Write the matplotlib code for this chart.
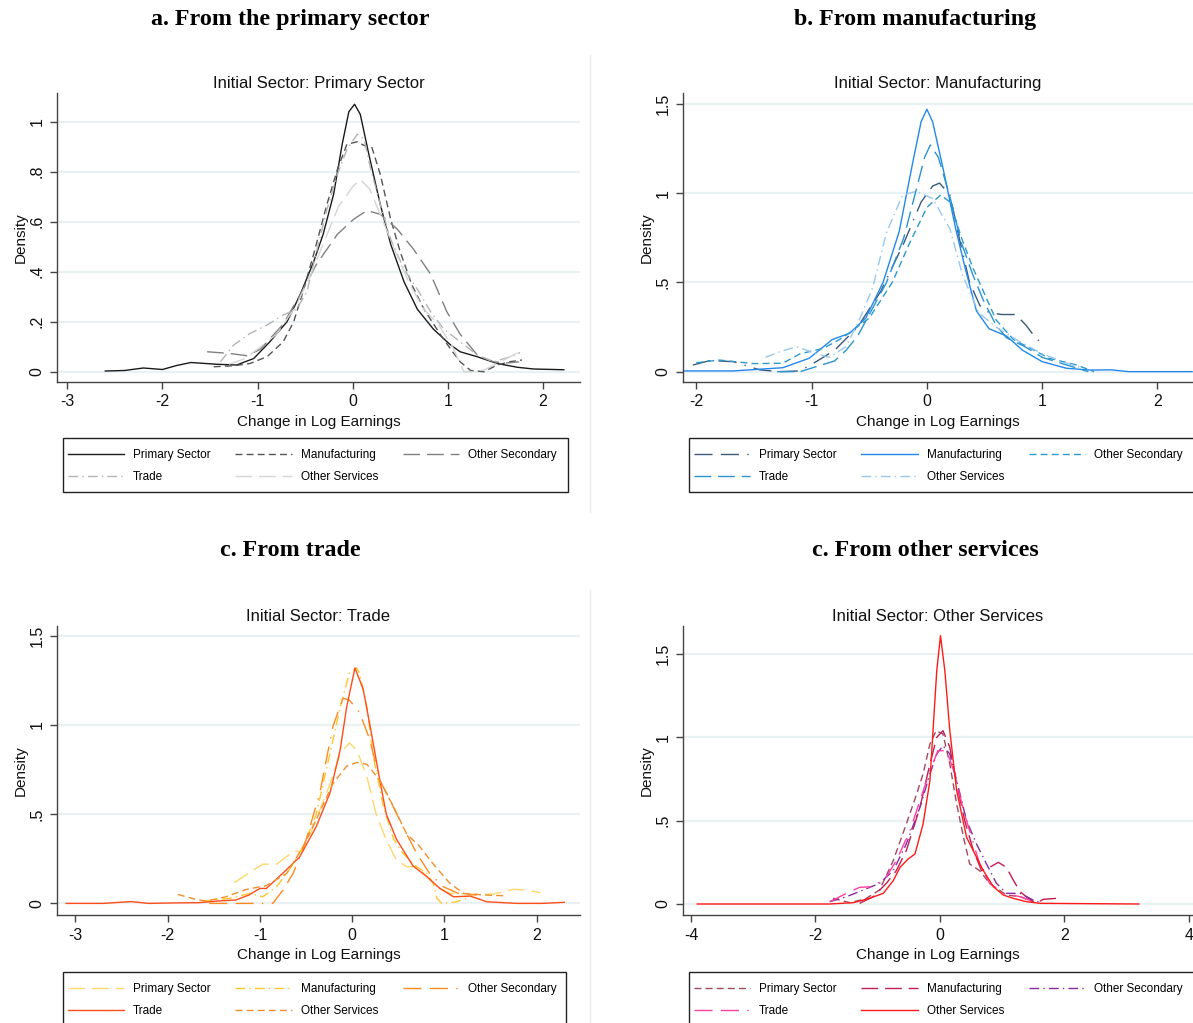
import matplotlib
matplotlib.use("Agg")
import matplotlib.pyplot as plt
from matplotlib.lines import Line2D
from matplotlib.patches import Rectangle

W, H = 1193, 1023

SECTORS = ["Primary Sector", "Manufacturing", "Other Secondary", "Trade", "Other Services"]

# --- a. initial sector: primary --------------------------------------------
a_primary_x = [-2.6, -2.4, -2.2, -2.0, -1.85, -1.7, -1.43, -1.22, -1.04, -0.87, -0.69, -0.55, -0.41,
               -0.31, -0.2, -0.11, -0.04, 0.02, 0.08, 0.17, 0.29, 0.4, 0.54, 0.68, 0.85, 1.03, 1.13,
               1.31, 1.52, 1.73, 1.9, 2.22]
a_primary_y = [0.003, 0.005, 0.015, 0.009, 0.025, 0.037, 0.03, 0.027, 0.053, 0.12, 0.2, 0.31, 0.44,
               0.55, 0.71, 0.91, 1.04, 1.07, 1.03, 0.87, 0.67, 0.51, 0.36, 0.25, 0.17, 0.107, 0.08,
               0.06, 0.033, 0.018, 0.011, 0.008]
a_manuf_x = [-1.46, -1.25, -1.08, -0.9, -0.73, -0.62, -0.53, -0.41, -0.27, -0.16, -0.06, 0.05, 0.12,
             0.2, 0.29, 0.4, 0.5, 0.62, 0.75, 0.92, 1.05, 1.13, 1.24, 1.38, 1.52, 1.65, 1.78]
a_manuf_y = [0.02, 0.024, 0.033, 0.06, 0.12, 0.2, 0.31, 0.47, 0.67, 0.81, 0.91, 0.92, 0.905, 0.9,
             0.79, 0.61, 0.48, 0.35, 0.25, 0.15, 0.08, 0.04, 0.005, 0.0, 0.027, 0.04, 0.047]
a_othsec_x = [-1.53, -1.29, -1.11, -0.97, -0.73, -0.55, -0.38, -0.16, 0.01, 0.15, 0.29, 0.47, 0.64,
              0.82, 0.99, 1.13, 1.31, 1.48, 1.62, 1.75]
a_othsec_y = [0.08, 0.073, 0.064, 0.09, 0.19, 0.31, 0.43, 0.55, 0.61, 0.645, 0.63, 0.57, 0.49, 0.39,
              0.24, 0.15, 0.067, 0.04, 0.035, 0.04]
a_trade_x = [-1.39, -1.25, -1.08, -0.9, -0.73, -0.59, -0.48, -0.38, -0.27, -0.16, -0.06, 0.05, 0.12,
             0.19, 0.29, 0.4, 0.54, 0.68, 0.82, 0.96, 1.13, 1.31, 1.48, 1.66, 1.76]
a_trade_y = [0.04, 0.107, 0.153, 0.187, 0.227, 0.25, 0.32, 0.48, 0.65, 0.79, 0.89, 0.95, 0.93, 0.81,
             0.67, 0.53, 0.41, 0.33, 0.24, 0.17, 0.12, 0.067, 0.04, 0.06, 0.077]
a_othsvc_x = [-1.3, -1.15, -1.0, -0.8, -0.6, -0.45, -0.3, -0.15, 0.0, 0.08, 0.18, 0.3, 0.45, 0.6,
              0.75, 0.9, 1.05, 1.17, 1.3, 1.4, 1.55, 1.76]
a_othsvc_y = [0.03, 0.05, 0.09, 0.15, 0.26, 0.38, 0.52, 0.66, 0.74, 0.77, 0.73, 0.62, 0.48, 0.35,
              0.25, 0.19, 0.1, 0.0, 0.0, 0.01, 0.04, 0.08]

# --- b. initial sector: manufacturing --------------------------------------
b_primary_x = [-2.03, -1.88, -1.68, -1.45, -1.28, -1.1, -0.96, -0.8, -0.6, -0.4, -0.2, -0.05, 0.05,
               0.11, 0.2, 0.28, 0.37, 0.46, 0.54, 0.65, 0.77, 0.86, 0.93, 0.99]
b_primary_y = [0.037, 0.062, 0.056, 0.01, 0.0, 0.004, 0.056, 0.12, 0.25, 0.45, 0.72, 0.95, 1.04,
               1.056, 0.99, 0.75, 0.5, 0.37, 0.33, 0.32, 0.32, 0.26, 0.2, 0.16]
b_manuf_x = [-2.1, -1.68, -1.25, -1.02, -0.82, -0.67, -0.53, -0.38, -0.24, -0.12, -0.05, 0.0, 0.05,
             0.14, 0.25, 0.34, 0.43, 0.54, 0.69, 0.83, 1.0, 1.21, 1.41, 1.6, 1.75, 2.3]
b_manuf_y = [0.004, 0.004, 0.022, 0.075, 0.18, 0.215, 0.3, 0.5, 0.785, 1.18, 1.4, 1.47, 1.4, 1.14,
             0.8, 0.56, 0.34, 0.24, 0.2, 0.12, 0.056, 0.019, 0.009, 0.01, 0.0, 0.0]
b_othsec_x = [-2.0, -1.8, -1.5, -1.25, -1.1, -0.9, -0.73, -0.5, -0.3, -0.15, 0.0, 0.12, 0.2, 0.3,
              0.4, 0.49, 0.6, 0.75, 0.9, 1.06, 1.3, 1.45]
b_othsec_y = [0.05, 0.065, 0.045, 0.047, 0.1, 0.13, 0.19, 0.3, 0.5, 0.72, 0.92, 0.99, 0.95, 0.75,
              0.58, 0.45, 0.29, 0.18, 0.13, 0.075, 0.037, 0.0]
b_trade_x = [-1.3, -1.1, -0.95, -0.8, -0.7, -0.6, -0.5, -0.35, -0.2, -0.1, -0.02, 0.03, 0.1, 0.2,
             0.3, 0.4, 0.49, 0.6, 0.69, 0.85, 1.0, 1.2, 1.4]
b_trade_y = [0.0, 0.0, 0.03, 0.06, 0.12, 0.2, 0.32, 0.5, 0.75, 1.0, 1.2, 1.27, 1.2, 0.98, 0.72,
             0.54, 0.4, 0.26, 0.19, 0.14, 0.08, 0.04, 0.0]
b_othsvc_x = [-1.4, -1.28, -1.13, -1.0, -0.85, -0.7, -0.58, -0.47, -0.35, -0.21, -0.09, 0.05, 0.2,
              0.31, 0.45, 0.6, 0.8, 1.0, 1.2, 1.35]
b_othsvc_y = [0.08, 0.11, 0.14, 0.11, 0.08, 0.14, 0.3, 0.47, 0.78, 0.99, 1.01, 0.97, 0.8, 0.54,
              0.33, 0.25, 0.17, 0.1, 0.05, 0.02]

# --- c. initial sector: trade ----------------------------------------------
c_primary_x = [-1.28, -0.97, -0.82, -0.64, -0.53, -0.39, -0.24, -0.13, -0.03, 0.05, 0.16, 0.26,
               0.37, 0.48, 0.59, 0.7, 0.81, 0.92, 1.06, 1.28, 1.53, 1.75, 1.89, 2.04]
c_primary_y = [0.116, 0.22, 0.22, 0.29, 0.295, 0.47, 0.67, 0.84, 0.9, 0.86, 0.71, 0.5, 0.355,
               0.243, 0.206, 0.206, 0.15, 0.093, 0.056, 0.052, 0.052, 0.079, 0.075, 0.06]
c_manuf_x = [-1.62, -1.33, -1.11, -0.97, -0.82, -0.68, -0.53, -0.39, -0.24, -0.13, -0.03, 0.05,
             0.08, 0.16, 0.23, 0.34, 0.45, 0.55, 0.7, 0.81, 0.88, 0.92, 0.97, 1.13, 1.28]
c_manuf_y = [0.013, 0.028, 0.056, 0.037, 0.093, 0.19, 0.32, 0.5, 0.84, 1.1, 1.29, 1.32, 1.29,
             1.1, 0.82, 0.54, 0.36, 0.28, 0.206, 0.168, 0.112, 0.028, 0.0, 0.009, 0.037]
c_othsec_x = [-1.55, -0.86, -0.75, -0.64, -0.5, -0.35, -0.21, -0.1, -0.03, 0.08, 0.19, 0.3, 0.41,
              0.55, 0.7, 0.84, 0.99, 1.17, 1.35]
c_othsec_y = [0.0, 0.0, 0.075, 0.168, 0.355, 0.62, 0.99, 1.15, 1.14, 1.07, 0.92, 0.69, 0.58, 0.43,
              0.28, 0.168, 0.093, 0.052, 0.047]
c_trade_x = [-3.1, -2.7, -2.4, -2.2, -1.9, -1.66, -1.47, -1.26, -1.12, -1.0, -0.93, -0.75, -0.57,
             -0.39, -0.24, -0.13, -0.06, 0.03, 0.12, 0.21, 0.3, 0.37, 0.48, 0.66, 0.81, 0.95, 1.1,
             1.28, 1.46, 1.79, 2.05, 2.3]
c_trade_y = [0.0, 0.0, 0.01, 0.0, 0.003, 0.004, 0.013, 0.019, 0.047, 0.084, 0.084, 0.17, 0.26,
             0.43, 0.62, 0.86, 1.1, 1.32, 1.2, 0.95, 0.69, 0.5, 0.36, 0.21, 0.15, 0.084, 0.037,
             0.041, 0.009, 0.0, 0.0, 0.006]
c_othsvc_x = [-1.89, -1.69, -1.58, -1.37, -1.15, -0.93, -0.71, -0.53, -0.39, -0.21, -0.06, 0.05,
              0.16, 0.3, 0.45, 0.59, 0.73, 0.88, 1.06, 1.21, 1.43, 1.64]
c_othsvc_y = [0.05, 0.022, 0.013, 0.037, 0.078, 0.1, 0.168, 0.32, 0.47, 0.67, 0.77, 0.79, 0.78,
              0.69, 0.54, 0.39, 0.32, 0.22, 0.112, 0.056, 0.047, 0.043]

# --- d. initial sector: other services -------------------------------------
d_primary_x = [-1.72, -1.45, -1.2, -0.97, -0.75, -0.54, -0.4, -0.27, -0.16, -0.06, 0.05, 0.16,
               0.27, 0.38, 0.48, 0.64, 0.8, 1.07, 1.29, 1.5]
d_primary_y = [0.034, 0.008, 0.03, 0.084, 0.26, 0.48, 0.63, 0.78, 0.96, 1.04, 1.02, 0.84, 0.6,
               0.4, 0.24, 0.2, 0.124, 0.054, 0.044, 0.014]
d_manuf_x = [-1.29, -1.07, -0.86, -0.7, -0.54, -0.32, -0.16, -0.05, 0.05, 0.16, 0.27, 0.4, 0.54,
             0.67, 0.8, 0.94, 1.07, 1.18, 1.29, 1.42, 1.55, 1.66, 1.88]
d_manuf_y = [0.004, 0.044, 0.124, 0.2, 0.32, 0.58, 0.84, 1.0, 1.04, 0.94, 0.72, 0.5, 0.32, 0.2,
             0.22, 0.25, 0.22, 0.144, 0.074, 0.034, 0.004, 0.028, 0.034]
d_othsec_x = [-1.77, -1.5, -1.23, -0.97, -0.75, -0.54, -0.32, -0.16, -0.05, 0.05, 0.16, 0.27, 0.43,
              0.59, 0.75, 0.91, 1.07, 1.29, 1.5, 1.64]
d_othsec_y = [0.014, 0.044, 0.084, 0.124, 0.2, 0.36, 0.58, 0.78, 0.9, 0.95, 0.9, 0.74, 0.5, 0.36,
              0.24, 0.124, 0.064, 0.064, 0.024, 0.004]
d_trade_x = [-1.77, -1.5, -1.29, -1.07, -0.86, -0.7, -0.48, -0.32, -0.16, -0.03, 0.11, 0.24, 0.38,
             0.51, 0.64, 0.8, 1.02, 1.29, 1.5]
d_trade_y = [0.014, 0.064, 0.1, 0.104, 0.164, 0.26, 0.44, 0.62, 0.8, 0.92, 0.92, 0.78, 0.56, 0.4,
             0.24, 0.124, 0.064, 0.044, 0.014]
d_othsvc_x = [-3.9, -1.77, -1.39, -1.13, -0.91, -0.75, -0.64, -0.51, -0.4, -0.27, -0.16, -0.11,
              -0.05, 0.01, 0.08, 0.16, 0.27, 0.43, 0.59, 0.7, 0.86, 1.02, 1.18, 1.39, 1.61, 3.2]
d_othsvc_y = [0.0, 0.0, 0.008, 0.034, 0.064, 0.14, 0.22, 0.27, 0.3, 0.48, 0.74, 1.04, 1.4, 1.61,
              1.4, 1.04, 0.68, 0.4, 0.28, 0.2, 0.104, 0.054, 0.034, 0.014, 0.004, 0.0]

# line styles (Stata-like dash patterns, in units of line width)
SOLID = "-"
DASH = (0, (5, 3))
LONGDASH = (0, (12, 5))
DASHDOT = (0, (7, 3, 1, 3))
LONGDASHDOT = (0, (13, 6, 13, 6, 1, 6))

panels = [
    dict(rect=(57, 93, 580, 382), title="Initial Sector: Primary Sector",
         head="a. From the primary sector", head_xy=(290, 19),
         xlim=(-3.108, 2.39), ylim=(-0.041, 1.115), xticks=[-3, -2, -1, 0, 1, 2],
         yticks=[0, 0.2, 0.4, 0.6, 0.8, 1.0], ylabels=["0", ".2", ".4", ".6", ".8", "1"],
         curves=[(a_primary_x, a_primary_y), (a_manuf_x, a_manuf_y), (a_othsec_x, a_othsec_y),
                 (a_trade_x, a_trade_y), (a_othsvc_x, a_othsvc_y)],
         colors=["#1a1a1a", "#555555", "#808080", "#b4b4b4", "#d4d4d4"],
         styles=[SOLID, DASH, LONGDASH, DASHDOT, LONGDASH],
         legend=(63, 438, 568, 492)),
    dict(rect=(683, 93, 1193, 382), title="Initial Sector: Manufacturing",
         head="b. From manufacturing", head_xy=(915, 19),
         xlim=(-2.115, 2.308), ylim=(-0.058, 1.561), xticks=[-2, -1, 0, 1, 2],
         yticks=[0, 0.5, 1.0, 1.5], ylabels=["0", ".5", "1", "1.5"],
         curves=[(b_primary_x, b_primary_y), (b_manuf_x, b_manuf_y), (b_othsec_x, b_othsec_y),
                 (b_trade_x, b_trade_y), (b_othsvc_x, b_othsvc_y)],
         colors=["#3a5a78", "#2288ee", "#2a9bcc", "#2b93d0", "#98c8ec"],
         styles=[LONGDASHDOT, SOLID, DASH, LONGDASH, DASHDOT],
         legend=(689, 438, 1205, 492)),
    dict(rect=(57, 626, 580, 915), title="Initial Sector: Trade",
         head="c. From trade", head_xy=(290, 551),
         xlim=(-3.2, 2.47), ylim=(-0.065, 1.555), xticks=[-3, -2, -1, 0, 1, 2],
         yticks=[0, 0.5, 1.0, 1.5], ylabels=["0", ".5", "1", "1.5"],
         curves=[(c_primary_x, c_primary_y), (c_manuf_x, c_manuf_y), (c_othsec_x, c_othsec_y),
                 (c_trade_x, c_trade_y), (c_othsvc_x, c_othsvc_y)],
         colors=["#ffd76a", "#ffc72c", "#ff8a1f", "#ff4d1a", "#f0902c"],
         styles=[LONGDASH, DASHDOT, LONGDASHDOT, SOLID, DASH],
         legend=(63, 972, 566, 1030)),
    dict(rect=(683, 626, 1193, 915), title="Initial Sector: Other Services",
         head="c. From other services", head_xy=(925, 551),
         xlim=(-4.13, 4.07), ylim=(-0.066, 1.668), xticks=[-4, -2, 0, 2, 4],
         yticks=[0, 0.5, 1.0, 1.5], ylabels=["0", ".5", "1", "1.5"],
         curves=[(d_primary_x, d_primary_y), (d_manuf_x, d_manuf_y), (d_othsec_x, d_othsec_y),
                 (d_trade_x, d_trade_y), (d_othsvc_x, d_othsvc_y)],
         colors=["#a04a5e", "#c21d52", "#8a2a9e", "#ff3fa0", "#ff1a1a"],
         styles=[DASH, LONGDASH, DASHDOT, LONGDASHDOT, SOLID],
         legend=(689, 972, 1205, 1030)),
]

plt.rcParams["font.family"] = ["Liberation Sans", "DejaVu Sans"]
fig = plt.figure(figsize=(W / 100, H / 100), dpi=100)
fig.patch.set_facecolor("white")

# faint frame edges of the original Stata graphs
fig.add_artist(Line2D([590 / W, 590 / W], [1 - 55 / H, 1 - 512 / H], color="#ececec", lw=1))
fig.add_artist(Line2D([590 / W, 590 / W], [1 - 590 / H, 0], color="#ececec", lw=1))

for p in panels:
    l, t, r, b = p["rect"]
    ax = fig.add_axes([l / W, 1 - b / H, (r - l) / W, (b - t) / H])
    ax.set_xlim(*p["xlim"])
    ax.set_ylim(*p["ylim"])
    for yv in p["yticks"]:
        ax.axhline(yv, color="#eaf1f3", lw=1.6, zorder=0)
    for (x, y), c, ls in zip(p["curves"], p["colors"], p["styles"]):
        ax.plot(x, y, color=c, ls=ls, lw=1.0)
    for s in ("top", "right"):
        ax.spines[s].set_visible(False)
    for s in ("left", "bottom"):
        ax.spines[s].set_color("#444444")
        ax.spines[s].set_linewidth(1.0)
    ax.set_xticks(p["xticks"])
    ax.set_xticklabels([str(v) for v in p["xticks"]])
    ax.set_yticks(p["yticks"])
    ax.set_yticklabels(p["ylabels"], rotation=90, va="center")
    ax.tick_params(direction="out", length=5, width=1, color="#444444", labelsize=11.5,
                   labelcolor="#111111", pad=4)
    ax.set_xlabel("Change in Log Earnings", fontsize=11, color="#111111", labelpad=4)
    ax.set_ylabel("Density", fontsize=11, color="#111111", labelpad=1)
    ax.set_title(p["title"], fontsize=12, color="#111111", pad=3.5)

    fig.text(p["head_xy"][0] / W, 1 - p["head_xy"][1] / H, p["head"], ha="center", va="center",
             fontsize=17.3, fontweight="bold", family=["Liberation Serif", "DejaVu Serif"])

    # legend box drawn separately so the inner spacing can match Stata's
    lx0, ly0, lx1, ly1 = p["legend"]
    fig.add_artist(Rectangle((lx0 / W, 1 - ly1 / H), (lx1 - lx0) / W, (ly1 - ly0) / H,
                             transform=fig.transFigure, fill=False, ec="#222222", lw=1.0))
    handles = [Line2D([], [], color=c, ls=ls, lw=1.0) for c, ls in zip(p["colors"], p["styles"])]
    order = [0, 3, 1, 4, 2]
    ax.legend([handles[i] for i in order], [SECTORS[i] for i in order], ncol=3,
              loc="upper left", bbox_to_anchor=((lx0 + 5) / W, 1 - (ly0 + 11) / H),
              bbox_transform=fig.transFigure, fontsize=8.5, handlelength=4.75,
              handletextpad=0.76, columnspacing=2.1, labelspacing=0.88, borderpad=0,
              borderaxespad=0, frameon=False)

fig.savefig("out.png", dpi=100, facecolor="white")
